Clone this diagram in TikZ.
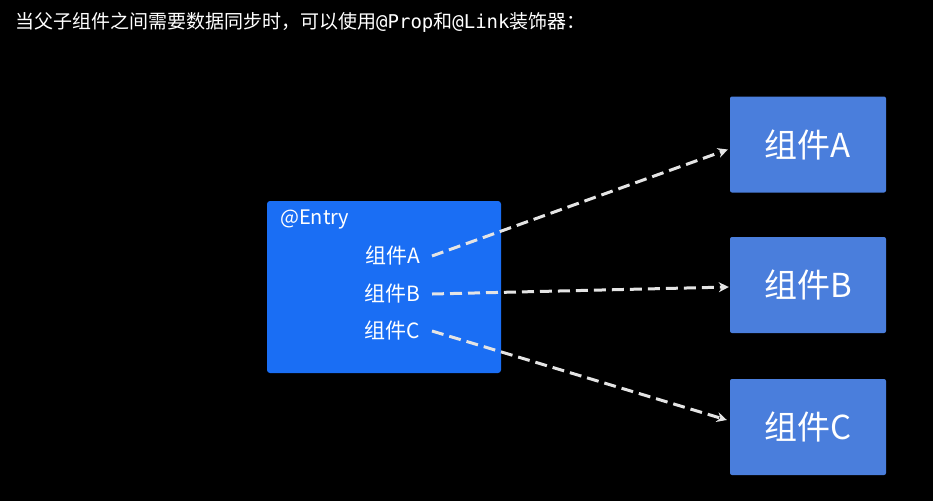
\documentclass[tikz,border=0pt]{standalone}
\usepackage{fontspec}
\setmainfont{Noto Sans CJK SC}
\newfontfamily\codefont{DejaVu Sans Mono}
\usetikzlibrary{positioning,arrows.meta}
\definecolor{screen}{HTML}{000000}
\definecolor{entryblue}{HTML}{1A6EF4}
\definecolor{compblue}{HTML}{4A7EDC}
\definecolor{linkgray}{HTML}{E4E4E4}

\begin{document}
\begin{tikzpicture}[x=1pt,y=-1pt,
  every node/.style={text=white,inner sep=0pt},
  compbox/.style={fill=compblue,rounded corners=2pt,minimum width=156pt,minimum height=96pt,font=\fontsize{33}{33}\selectfont},
  sublabel/.style={anchor=east,font=\fontsize{21}{21}\selectfont},
  flow/.style={linkgray,line width=3pt,dash pattern=on 12pt off 6pt,-{Stealth[length=10pt,width=10pt]}}]
  \fill[screen] (0,0) rectangle (933,501);
  \useasboundingbox (0,0) rectangle (933,501);
  \node[anchor=west,font=\fontsize{19}{19}\selectfont] (title) at (15,22) {当父子组件之间需要数据同步时，可以使用{\codefont @Prop}和{\codefont @Link}装饰器：};
  \node[fill=entryblue,rounded corners=3pt,minimum width=234pt,minimum height=172pt] (entry) at (384,287) {};
  \node[anchor=west,font=\fontsize{20}{20}\selectfont] (entrytag) at (280,220) {@Entry};
  \foreach \n/\y/\ty/\dx/\dy in {A/256/144.5/-2/5, B/294/285/-1/2, C/331/427/-3/-7}{
    \node[sublabel] (sub\n) at (420,\y) {组件\n};
    \node[compbox] (comp\n) at (808,\ty) {组件\n};
    \draw[flow] ([xshift=12pt]sub\n.east) -- ([shift={(\dx,\dy)}]comp\n.west);
  }
\end{tikzpicture}
\end{document}
